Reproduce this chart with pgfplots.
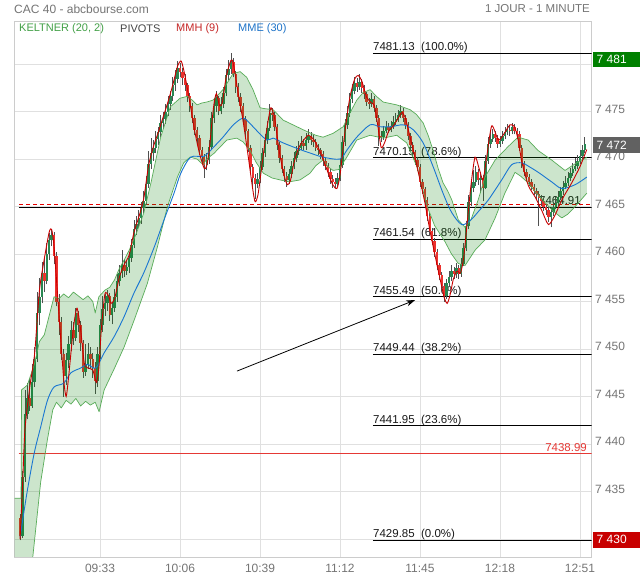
\documentclass[border=0pt]{standalone}
\usepackage{fontspec}
\setmainfont{Liberation Sans}
\usepackage{pgfplots}
\usepackage{pgfplotstable}
\pgfplotsset{compat=1.18}
\usetikzlibrary{arrows.meta}
\definecolor{gridcol}{RGB}{224,224,224}
\definecolor{bordercol}{RGB}{204,204,204}
\definecolor{ticklab}{RGB}{117,117,117}
\definecolor{upgreen}{RGB}{40,135,82}
\definecolor{downred}{RGB}{236,50,46}
\definecolor{wickcol}{RGB}{80,80,80}
\definecolor{bandline}{RGB}{88,172,88}
\definecolor{bandfill}{RGB}{0,128,0}
\definecolor{mmecol}{RGB}{25,118,210}
\definecolor{mmhcol}{RGB}{200,0,0}
\definecolor{legkel}{RGB}{67,160,71}
\definecolor{legpiv}{RGB}{70,70,70}
\definecolor{legmmh}{RGB}{198,40,40}
\definecolor{legmme}{RGB}{30,115,200}
\definecolor{fibcol}{RGB}{25,25,25}
\definecolor{redline}{RGB}{229,57,53}
\definecolor{dashred}{RGB}{230,0,0}
\definecolor{taggreen}{RGB}{0,128,0}
\definecolor{taggray}{RGB}{97,97,97}
\definecolor{tagred}{RGB}{200,0,0}

\pgfplotstableread{
t o h l c
0 7432.2 7432.6 7429.85 7430.3
1 7430.3 7437.2 7430.1 7436.5
2 7436.5 7445.7 7436.0 7443.2
3 7443.2 7446.4 7442.6 7444.8
4 7444.8 7446.8 7443.5 7444.0
5 7444.0 7448.4 7443.8 7446.5
6 7446.5 7450.2 7446.0 7449.0
7 7449.0 7456.0 7448.6 7453.8
8 7453.8 7457.5 7452.5 7455.5
9 7455.5 7459.2 7454.8 7458.0
10 7458.0 7459.5 7456.0 7457.2
11 7457.2 7461.2 7456.8 7460.0
12 7460.0 7462.2 7459.4 7461.5
13 7461.5 7462.5 7460.8 7462.0
14 7462.0 7462.3 7459.0 7459.8
15 7459.8 7460.2 7454.5 7455.0
16 7455.0 7455.8 7451.5 7452.8
17 7452.8 7453.4 7448.8 7449.5
18 7449.5 7450.0 7445.0 7447.2
19 7447.2 7449.6 7446.2 7448.8
20 7448.8 7451.4 7448.0 7450.5
21 7450.5 7453.0 7449.8 7452.0
22 7452.0 7452.8 7450.4 7451.2
23 7451.2 7454.3 7450.8 7453.8
24 7453.8 7454.0 7451.8 7452.5
25 7452.5 7452.9 7449.8 7450.6
26 7450.6 7451.0 7447.0 7447.6
27 7447.6 7450.5 7447.2 7448.4
28 7448.4 7450.6 7447.9 7449.5
29 7449.5 7450.2 7448.0 7448.9
30 7448.9 7449.6 7447.0 7448.0
31 7448.0 7448.6 7445.3 7446.6
32 7446.6 7450.2 7446.0 7449.5
33 7449.5 7453.2 7449.0 7452.5
34 7452.5 7455.6 7451.8 7454.2
35 7454.2 7455.8 7453.5 7454.8
36 7454.8 7456.2 7454.0 7455.6
37 7455.6 7455.9 7453.0 7453.6
38 7453.6 7455.0 7452.6 7454.3
39 7454.3 7456.3 7453.9 7455.5
40 7455.5 7457.9 7455.0 7457.2
41 7457.2 7458.8 7456.6 7458.0
42 7458.0 7460.4 7457.5 7458.8
43 7458.8 7459.5 7457.6 7458.2
44 7458.2 7459.3 7457.8 7458.6
45 7458.6 7460.2 7458.0 7459.6
46 7459.6 7461.6 7459.2 7461.0
47 7461.0 7463.6 7460.6 7462.6
48 7462.6 7464.0 7462.0 7463.2
49 7463.2 7464.6 7462.8 7463.8
50 7463.8 7465.5 7463.2 7464.8
51 7464.8 7466.6 7464.3 7465.6
52 7465.6 7468.2 7465.2 7467.4
53 7467.4 7470.8 7467.0 7469.5
54 7469.5 7472.2 7469.0 7470.6
55 7470.6 7472.0 7469.8 7471.2
56 7471.2 7473.0 7470.6 7472.1
57 7472.1 7473.4 7471.5 7472.8
58 7472.8 7474.6 7472.3 7473.8
59 7473.8 7475.0 7473.2 7474.2
60 7474.2 7475.8 7473.7 7475.0
61 7475.0 7476.6 7474.5 7475.8
62 7475.8 7477.2 7475.2 7476.6
63 7476.6 7478.6 7476.1 7477.8
64 7477.8 7479.4 7477.2 7478.4
65 7478.4 7480.3 7478.0 7479.6
66 7479.6 7480.1 7478.6 7479.2
67 7479.2 7479.6 7477.8 7478.5
68 7478.5 7478.9 7477.2 7477.8
69 7477.8 7478.0 7476.0 7476.6
70 7476.6 7476.9 7475.0 7475.6
71 7475.6 7475.9 7473.8 7474.3
72 7474.3 7474.6 7472.5 7473.1
73 7473.1 7473.4 7471.6 7472.2
74 7472.2 7472.5 7470.4 7471.0
75 7471.0 7471.3 7469.5 7470.2
76 7470.2 7470.5 7468.0 7469.4
77 7469.4 7470.6 7468.8 7469.9
78 7469.9 7472.0 7469.5 7471.3
79 7471.3 7475.0 7471.0 7474.3
80 7474.3 7476.4 7473.8 7475.6
81 7475.6 7477.2 7475.0 7476.4
82 7476.4 7476.6 7474.6 7475.1
83 7475.1 7476.5 7474.7 7475.8
84 7475.8 7477.6 7475.4 7476.9
85 7476.9 7479.5 7476.6 7478.8
86 7478.8 7480.4 7478.3 7479.5
87 7479.5 7481.13 7479.0 7480.2
88 7480.2 7480.6 7478.6 7479.0
89 7479.0 7479.3 7477.0 7477.6
90 7477.6 7478.0 7476.0 7476.5
91 7476.5 7476.9 7475.0 7475.6
92 7475.6 7475.9 7473.7 7474.2
93 7474.2 7474.5 7472.4 7472.9
94 7472.9 7473.2 7470.7 7471.2
95 7471.2 7471.5 7468.6 7469.2
96 7469.2 7469.5 7467.0 7468.0
97 7468.0 7468.4 7465.8 7467.4
98 7467.4 7468.5 7466.9 7467.9
99 7467.9 7469.8 7467.5 7469.2
100 7469.2 7471.2 7468.8 7470.6
101 7470.6 7472.6 7470.2 7472.0
102 7472.0 7474.0 7471.6 7473.3
103 7473.3 7475.8 7473.0 7474.8
104 7474.8 7475.4 7474.0 7474.6
105 7474.6 7474.9 7473.0 7473.4
106 7473.4 7473.7 7471.0 7471.5
107 7471.5 7471.8 7469.6 7470.1
108 7470.1 7470.4 7468.5 7469.0
109 7469.0 7469.3 7467.6 7468.2
110 7468.2 7468.6 7467.1 7467.8
111 7467.8 7469.0 7467.4 7468.4
112 7468.4 7469.8 7468.0 7469.3
113 7469.3 7470.7 7468.9 7470.1
114 7470.1 7471.4 7469.7 7470.8
115 7470.8 7471.9 7470.4 7471.2
116 7471.2 7472.4 7470.9 7471.7
117 7471.7 7472.1 7470.9 7471.4
118 7471.4 7472.7 7471.0 7472.0
119 7472.0 7473.2 7471.7 7472.4
120 7472.4 7472.8 7471.5 7472.0
121 7472.0 7472.5 7471.3 7471.8
122 7471.8 7472.1 7470.8 7471.2
123 7471.2 7471.6 7470.4 7470.9
124 7470.9 7471.2 7470.0 7470.5
125 7470.5 7470.8 7469.3 7469.8
126 7469.8 7470.1 7468.8 7469.3
127 7469.3 7469.6 7468.1 7468.6
128 7468.6 7468.9 7467.4 7467.9
129 7467.9 7468.3 7467.0 7467.6
130 7467.6 7468.0 7467.0 7467.4
131 7467.4 7468.5 7467.1 7468.0
132 7468.0 7470.0 7467.7 7469.4
133 7469.4 7472.4 7469.1 7471.8
134 7471.8 7474.2 7471.4 7473.6
135 7473.6 7475.6 7473.2 7474.8
136 7474.8 7477.0 7474.4 7476.3
137 7476.3 7477.9 7475.9 7477.2
138 7477.2 7478.6 7476.8 7478.0
139 7478.0 7478.5 7477.1 7477.6
140 7477.6 7478.9 7477.3 7478.1
141 7478.1 7478.4 7477.0 7477.5
142 7477.5 7477.8 7476.3 7476.8
143 7476.8 7477.1 7475.6 7476.0
144 7476.0 7476.4 7475.3 7475.8
145 7475.8 7476.9 7475.5 7476.3
146 7476.3 7476.6 7475.0 7475.4
147 7475.4 7475.7 7473.9 7474.3
148 7474.3 7474.6 7471.4 7472.4
149 7472.4 7473.0 7471.8 7472.3
150 7472.3 7473.5 7472.0 7473.0
151 7473.0 7474.0 7472.7 7473.4
152 7473.4 7473.8 7472.7 7473.1
153 7473.1 7474.0 7472.8 7473.5
154 7473.5 7474.5 7473.2 7473.9
155 7473.9 7474.8 7473.6 7474.2
156 7474.2 7475.2 7473.9 7474.6
157 7474.6 7475.7 7474.3 7475.1
158 7475.1 7475.4 7473.9 7474.3
159 7474.3 7474.6 7473.2 7473.6
160 7473.6 7473.9 7472.0 7472.4
161 7472.4 7472.7 7471.0 7471.5
162 7471.5 7471.8 7470.2 7470.7
163 7470.7 7471.0 7469.4 7469.9
164 7469.9 7470.2 7468.7 7469.2
165 7469.2 7469.5 7467.1 7467.6
166 7467.6 7467.9 7466.3 7466.8
167 7466.8 7467.1 7465.2 7465.7
168 7465.7 7466.0 7463.5 7464.0
169 7464.0 7464.3 7461.9 7462.4
170 7462.4 7462.7 7460.9 7461.4
171 7461.4 7461.7 7459.7 7460.2
172 7460.2 7460.5 7458.3 7458.8
173 7458.8 7459.1 7457.3 7457.8
174 7457.8 7458.1 7456.1 7456.6
175 7456.6 7456.9 7455.0 7455.6
176 7455.6 7457.4 7455.3 7456.9
177 7456.9 7458.2 7456.5 7457.6
178 7457.6 7458.8 7457.2 7458.2
179 7458.2 7458.6 7457.4 7457.9
180 7457.9 7459.1 7457.5 7458.5
181 7458.5 7458.8 7457.4 7457.9
182 7457.9 7459.6 7457.6 7459.0
183 7459.0 7461.2 7458.7 7460.6
184 7460.6 7463.5 7460.3 7462.9
185 7462.9 7466.2 7462.6 7465.5
186 7465.5 7467.6 7465.1 7466.9
187 7466.9 7468.8 7466.5 7467.6
188 7467.6 7469.3 7467.2 7468.6
189 7468.6 7468.9 7467.3 7467.8
190 7467.8 7468.6 7466.4 7468.0
191 7468.0 7468.3 7465.6 7467.0
192 7467.0 7470.4 7466.8 7469.8
193 7469.8 7472.3 7469.5 7471.6
194 7471.6 7472.8 7471.2 7472.1
195 7472.1 7473.2 7471.8 7472.6
196 7472.6 7473.0 7471.8 7472.2
197 7472.2 7472.5 7471.2 7471.6
198 7471.6 7472.4 7471.3 7471.9
199 7471.9 7473.0 7471.6 7472.4
200 7472.4 7473.4 7472.1 7472.8
201 7472.8 7473.7 7472.5 7473.1
202 7473.1 7473.5 7472.4 7472.9
203 7472.9 7473.8 7472.6 7473.4
204 7473.4 7473.7 7472.6 7473.0
205 7473.0 7473.3 7472.1 7472.6
206 7472.6 7472.9 7470.8 7471.2
207 7471.2 7471.5 7469.1 7469.5
208 7469.5 7469.8 7468.2 7468.6
209 7468.6 7468.9 7467.7 7468.1
210 7468.1 7468.4 7467.2 7467.6
211 7467.6 7467.9 7466.7 7467.1
212 7467.1 7467.4 7466.2 7466.6
213 7466.6 7466.9 7465.8 7466.3
214 7466.3 7466.6 7463.0 7465.9
215 7465.9 7466.2 7465.1 7465.6
216 7465.6 7465.9 7464.5 7465.0
217 7465.0 7465.3 7464.1 7464.6
218 7464.6 7464.9 7463.4 7463.9
219 7463.9 7464.9 7462.8 7464.4
220 7464.4 7465.5 7464.0 7465.0
221 7465.0 7466.0 7464.7 7465.4
222 7465.4 7466.6 7465.1 7466.0
223 7466.0 7467.1 7465.7 7466.6
224 7466.6 7467.7 7466.2 7467.1
225 7467.1 7468.2 7466.8 7467.5
226 7467.5 7468.6 7467.2 7468.0
227 7468.0 7469.1 7467.7 7468.5
228 7468.5 7469.6 7468.2 7469.0
229 7469.0 7470.1 7468.7 7469.3
230 7469.3 7470.4 7469.0 7469.8
231 7469.8 7470.9 7469.5 7470.3
232 7470.3 7471.5 7470.0 7470.9
233 7470.9 7472.3 7470.6 7471.6
}\candles

\tikzset{fiblab/.style={anchor=base west, inner sep=0pt, yshift=2.5pt, text=fibcol, font=\fontsize{11.5}{13}\selectfont}}

\begin{document}
\begin{tikzpicture}
\useasboundingbox (0,0) rectangle (640pt,580pt);
\fill[white] (0,0) rectangle (640pt,580pt);
\begin{axis}[
  at={(14.5pt,23pt)}, anchor=south west, scale only axis,
  width=577pt, height=536pt,
  xmin=-2.3, xmax=235.75, ymin=7428.11, ymax=7484.53,
  xtick={33,66,99,132,165,198,231},
  xticklabels={09:33,10:06,10:39,11:12,11:45,12:18,12:51},
  ytick={7430,7435,7440,7445,7450,7455,7460,7465,7470,7475,7480},
  yticklabels={{},7 435,7 440,7 445,7 450,7 455,7 460,7 465,7 470,7 475,{}},
  yticklabel pos=right,
  major tick length=0pt,
  xmajorgrids, ymajorgrids,
  grid style={draw=gridcol, line width=0.9pt},
  axis line style={draw=bordercol, line width=0.9pt},
  tick label style={font=\fontsize{12}{14}\selectfont, text=ticklab},
  yticklabel style={anchor=west, yshift=2.5pt},
  xticklabel style={yshift=-4pt},
]
% reference lines (under candles)
\addplot[black, line width=0.9pt, forget plot] coordinates {(-0.6,7464.91) (235.75,7464.91)};
\addplot[dashred, line width=0.9pt, dash pattern=on 4pt off 3pt, forget plot] coordinates {(-0.4,7465.22) (235.75,7465.22)};
\addplot[redline, line width=0.8pt, forget plot] coordinates {(-0.6,7438.99) (235.75,7438.99)};
\addplot[black, line width=0.9pt, forget plot] coordinates {(145.6,7481.13) (235.75,7481.13)};
\addplot[black, line width=0.9pt, forget plot] coordinates {(145.6,7470.15) (235.75,7470.15)};
\addplot[black, line width=0.9pt, forget plot] coordinates {(145.6,7461.54) (235.75,7461.54)};
\addplot[black, line width=0.9pt, forget plot] coordinates {(145.6,7455.49) (235.75,7455.49)};
\addplot[black, line width=0.9pt, forget plot] coordinates {(145.6,7449.44) (235.75,7449.44)};
\addplot[black, line width=0.9pt, forget plot] coordinates {(145.6,7441.95) (235.75,7441.95)};
\addplot[black, line width=0.9pt, forget plot] coordinates {(145.6,7429.85) (235.75,7429.85)};
\node[fiblab] at (axis cs:145.6,7481.13) {7481.13~~(100.0\%)};
\node[fiblab] at (axis cs:145.6,7470.15) {7470.15~~(78.6\%)};
\node[fiblab] at (axis cs:145.6,7461.54) {7461.54~~(61.8\%)};
\node[fiblab] at (axis cs:145.6,7455.49) {7455.49~~(50.0\%)};
\node[fiblab] at (axis cs:145.6,7449.44) {7449.44~~(38.2\%)};
\node[fiblab] at (axis cs:145.6,7441.95) {7441.95~~(23.6\%)};
\node[fiblab] at (axis cs:145.6,7429.85) {7429.85~~(0.0\%)};
\node[fiblab, anchor=base east] at (axis cs:231.4,7464.91) {7464.91};
\node[fiblab, anchor=base east, text=redline] at (axis cs:233.9,7438.99) {7438.99};

% candles: wicks (segment from low to high)
\addplot[forget plot, draw=wickcol, line width=0.7pt,
  quiver={u=0, v=\thisrow{h}-\thisrow{l}}]
  table[x=t, y=l] {\candles};
% up bodies (down candles moved off the axis)
\addplot[forget plot, draw=upgreen, line width=2.4pt,
  quiver={u=0, v=\thisrow{c}-\thisrow{o}}]
  table[x expr={\thisrow{c}>=\thisrow{o} ? \thisrow{t} : -100}, y=o] {\candles};
% down bodies
\addplot[forget plot, draw=downred, line width=2.4pt,
  quiver={u=0, v=\thisrow{c}-\thisrow{o}}]
  table[x expr={\thisrow{c}<\thisrow{o} ? \thisrow{t} : -100}, y=o] {\candles};

% Keltner band fill (upper edge forward, lower edge back)
\addplot[fill=bandfill, fill opacity=0.2, draw=none, forget plot] coordinates {
(-2.3,7434.3) (0.4,7434.3) (0.6,7445.7) (3,7446.2) (6,7448.5) (8,7450.8) (10,7451.5) (12,7453.5) (14,7455.5) (16,7455.3) (18,7455.8) (20,7455.4) (22,7456.0) (24,7455.6) (26,7455.2) (28,7455.6) (30,7455.0) (31,7453.8) (32.5,7455.5) (35,7456.2) (37,7456.5) (39,7457.3) (41,7458.5) (43,7459.4) (45,7460.4) (48,7462.2) (51,7464.3) (54,7467.5) (58,7472.3) (62,7475.5) (66,7476.4) (69,7476.6) (71,7476.2) (73,7475.7) (75,7475.9) (77,7476.0) (79.6,7476.2) (83.7,7477.3) (87.9,7479.0) (90.8,7479.2) (93.5,7478.6) (96.1,7477.3) (99,7475.4) (101,7475.3) (104.4,7475.2) (108.5,7474.1) (114.2,7473.4) (118.3,7472.9) (122,7472.5) (125,7472.3) (129.1,7472.7) (133.3,7473.4) (136,7474.8) (138.9,7476.2) (141.5,7477.0) (144.4,7477.3) (147,7476.6) (149.8,7476.0) (155.4,7475.7) (160.9,7475.2) (163.5,7474.7) (166.3,7473.8) (168.5,7472.4) (170.4,7470.9) (172.5,7469.0) (174.5,7467.5) (176.5,7466.6) (178.1,7465.7) (180.8,7463.6) (183.6,7462.8) (186,7463.6) (189,7465.7) (191.8,7468.1) (196,7469.9) (201.3,7471.3) (205.4,7472.3) (209.6,7472.0) (213.7,7470.9) (219.3,7469.9) (224.8,7468.8) (229,7469.5) (233.8,7470.2)
(233.8,7466.4) (229,7465.0) (226,7464.2) (223.5,7463.8) (220,7464.5) (216.6,7465.4) (213,7466.4) (209.6,7467.5) (206.5,7468.2) (204.2,7468.6) (200,7466.4) (196,7463.8) (191.8,7461.5) (187.7,7460.4) (183.6,7458.8) (180.8,7459.0) (178,7460.0) (175.3,7461.3) (171,7463.0) (168,7465.0) (166.3,7466.6) (163.7,7469.2) (159.5,7471.7) (155.4,7472.5) (149.8,7472.2) (144.4,7472.5) (138.9,7472.0) (134.8,7470.2) (131.5,7468.9) (129.1,7468.8) (127,7469.2) (125,7469.9) (122,7469.3) (119.6,7468.5) (115.5,7467.8) (111,7467.6) (107.3,7467.8) (104,7468.0) (100.4,7468.5) (97.5,7469.6) (94.9,7470.9) (92,7471.8) (89.4,7472.2) (85.3,7472.0) (80,7470.6) (77,7470.0) (75.5,7469.4) (73,7470.0) (70.1,7470.2) (67.5,7469.6) (64.9,7468.1) (60.8,7465.0) (56.6,7460.7) (52.5,7456.9) (47,7453.0) (42.9,7450.2) (38.8,7447.9) (34.7,7445.7) (32.6,7443.4) (31,7444.4) (29,7444.1) (27,7444.5) (25,7444.0) (23,7444.8) (21,7444.2) (19,7444.6) (17,7443.8) (15,7444.4) (13.5,7443.6) (11.3,7440.5) (8.5,7436.0) (5.2,7428.0) (3.5,7424) (-2.3,7418)};
% Keltner band edges
\addplot[draw=bandline, line width=0.7pt, line join=round, forget plot] coordinates {
(-2.3,7434.3) (0.4,7434.3) (0.6,7445.7) (3,7446.2) (6,7448.5) (8,7450.8) (10,7451.5) (12,7453.5) (14,7455.5) (16,7455.3) (18,7455.8) (20,7455.4) (22,7456.0) (24,7455.6) (26,7455.2) (28,7455.6) (30,7455.0) (31,7453.8) (32.5,7455.5) (35,7456.2) (37,7456.5) (39,7457.3) (41,7458.5) (43,7459.4) (45,7460.4) (48,7462.2) (51,7464.3) (54,7467.5) (58,7472.3) (62,7475.5) (66,7476.4) (69,7476.6) (71,7476.2) (73,7475.7) (75,7475.9) (77,7476.0) (79.6,7476.2) (83.7,7477.3) (87.9,7479.0) (90.8,7479.2) (93.5,7478.6) (96.1,7477.3) (99,7475.4) (101,7475.3) (104.4,7475.2) (108.5,7474.1) (114.2,7473.4) (118.3,7472.9) (122,7472.5) (125,7472.3) (129.1,7472.7) (133.3,7473.4) (136,7474.8) (138.9,7476.2) (141.5,7477.0) (144.4,7477.3) (147,7476.6) (149.8,7476.0) (155.4,7475.7) (160.9,7475.2) (163.5,7474.7) (166.3,7473.8) (168.5,7472.4) (170.4,7470.9) (172.5,7469.0) (174.5,7467.5) (176.5,7466.6) (178.1,7465.7) (180.8,7463.6) (183.6,7462.8) (186,7463.6) (189,7465.7) (191.8,7468.1) (196,7469.9) (201.3,7471.3) (205.4,7472.3) (209.6,7472.0) (213.7,7470.9) (219.3,7469.9) (224.8,7468.8) (229,7469.5) (233.8,7470.2)};
\addplot[draw=bandline, line width=0.7pt, line join=round, forget plot] coordinates {
(-2.3,7418) (3.5,7424) (5.2,7428.0) (8.5,7436.0) (11.3,7440.5) (13.5,7443.6) (15,7444.4) (17,7443.8) (19,7444.6) (21,7444.2) (23,7444.8) (25,7444.0) (27,7444.5) (29,7444.1) (31,7444.4) (32.6,7443.4) (34.7,7445.7) (38.8,7447.9) (42.9,7450.2) (47,7453.0) (52.5,7456.9) (56.6,7460.7) (60.8,7465.0) (64.9,7468.1) (67.5,7469.6) (70.1,7470.2) (73,7470.0) (75.5,7469.4) (77,7470.0) (80,7470.6) (85.3,7472.0) (89.4,7472.2) (92,7471.8) (94.9,7470.9) (97.5,7469.6) (100.4,7468.5) (104,7468.0) (107.3,7467.8) (111,7467.6) (115.5,7467.8) (119.6,7468.5) (122,7469.3) (125,7469.9) (127,7469.2) (129.1,7468.8) (131.5,7468.9) (134.8,7470.2) (138.9,7472.0) (144.4,7472.5) (149.8,7472.2) (155.4,7472.5) (159.5,7471.7) (163.7,7469.2) (166.3,7466.6) (168,7465.0) (171,7463.0) (175.3,7461.3) (178,7460.0) (180.8,7459.0) (183.6,7458.8) (187.7,7460.4) (191.8,7461.5) (196,7463.8) (200,7466.4) (204.2,7468.6) (206.5,7468.2) (209.6,7467.5) (213,7466.4) (216.6,7465.4) (220,7464.5) (223.5,7463.8) (226,7464.2) (229,7465.0) (233.8,7466.4)};

% MME (30)
\addplot[mmecol, line width=0.9pt, smooth, forget plot] coordinates {
(0,7430.2) (2.8,7434.8) (5.8,7439) (8.5,7441.8) (11.3,7444.6) (14,7446.0) (18,7446.4) (21,7447.5) (25,7448.0) (27.8,7448.4) (31.2,7448.0) (34.7,7449.6) (38.8,7451.3) (42.9,7453.4) (47,7455.9) (51,7458.0) (55.3,7460.7) (59.4,7463.6) (63.5,7466.4) (66.3,7468.5) (70.4,7470.2) (75.9,7470.3) (80,7471.3) (83.7,7472.3) (88,7473.6) (92,7474.3) (95,7473.7) (97.6,7473.0) (101.8,7472.0) (104.4,7472.2) (108.5,7471.7) (115.5,7471.0) (120,7470.6) (125,7470.2) (131.9,7470.0) (135,7471.0) (138.9,7472.3) (144.4,7473.6) (148.5,7473.4) (153,7473.4) (158,7473.6) (162.1,7473.1) (166.3,7471.7) (170.4,7469.2) (174.5,7466.4) (178,7464.4) (182.2,7463.1) (186,7463.6) (189.5,7464.6) (193.2,7465.7) (198.7,7467.8) (202.8,7469.4) (207,7469.6) (210,7469.2) (213.8,7468.6) (219.3,7467.6) (223.5,7466.9) (229,7467.3) (233.8,7468.1)};

% MMH (9)
\addplot[mmhcol, line width=0.9pt, smooth, tension=0.4, forget plot] coordinates {
(0,7430.0) (1,7435.5) (2,7441.5) (4,7446.0) (6,7449.5) (8,7456.2) (10,7459.5) (12,7462.3) (13,7462.6) (14,7460.8) (16,7453.8) (18,7446.8) (19,7445.0) (20,7447.0) (22,7452.2) (23.5,7454.3) (25,7452.0) (26.5,7448.5) (28,7448.0) (30,7447.8) (31.5,7446.5) (32.5,7448.0) (33.5,7452.0) (35,7455.8) (36.5,7455.6) (37.5,7454.8) (39,7455.3) (41,7457.6) (43,7458.9) (45,7459.9) (47,7462.3) (49,7463.9) (51,7465.8) (53,7469.3) (55,7471.3) (57,7472.8) (59,7474.4) (61,7476.0) (63,7477.8) (65,7479.8) (66.5,7480.3) (68,7478.8) (70,7476.0) (72,7473.0) (74,7470.6) (76,7469.0) (77,7469.3) (78,7470.8) (79,7473.5) (80,7475.8) (81,7476.9) (82.3,7475.6) (83.5,7476.0) (85,7478.6) (87,7480.4) (88,7480.0) (90,7476.9) (92,7474.0) (94,7470.5) (96,7466.8) (97,7465.5) (98.2,7466.3) (100,7469.8) (102,7473.5) (103.5,7475.4) (105,7474.3) (107,7470.7) (109,7468.2) (110.3,7467.3) (111.5,7467.7) (113,7469.6) (115,7471.2) (117,7472.0) (119,7472.5) (121,7472.1) (123,7471.2) (125,7470.0) (127,7468.6) (129,7467.3) (130.7,7466.9) (132,7468.3) (134,7472.8) (136,7476.4) (138,7478.4) (139.5,7478.8) (141,7478.2) (143,7476.5) (145,7475.9) (146.2,7475.6) (147.6,7473.5) (149,7471.2) (150.5,7471.8) (152,7472.9) (154,7473.5) (156,7474.3) (157.5,7474.9) (159,7474.3) (161,7472.2) (163,7470.1) (165,7467.8) (167,7465.4) (169,7462.6) (171,7460.1) (173,7457.7) (175,7455.4) (176.2,7454.8) (177.3,7455.6) (178.8,7457.4) (180.3,7458.2) (181.7,7458.0) (183,7459.6) (184.5,7463.4) (186,7467.2) (187.7,7470.2) (189.5,7468.9) (191,7467.8) (192.5,7470.2) (194.6,7473.5) (197.3,7472.0) (199.5,7472.6) (202.1,7473.6) (204,7473.4) (205.5,7472.0) (207,7469.7) (209.7,7467.2) (212.5,7466.0) (215.2,7464.6) (218,7463.1) (220.7,7464.1) (223.5,7465.7) (227.6,7467.5) (231,7469.2) (233.8,7471.0)};

% annotation arrow
\addplot[black, line width=0.8pt, -{Stealth[length=9pt,width=6pt]}, forget plot] coordinates {(89.5,7447.68) (163,7455.16)};
\end{axis}

% price tags on the right
\fill[taggreen] (593pt,512.7pt) rectangle (640pt,528.3pt);
\node[anchor=west, inner sep=0pt, text=white, font=\fontsize{12}{14}\selectfont] at (596.5pt,520.5pt) {7 481};
\fill[taggray] (593pt,426.7pt) rectangle (640pt,442.7pt);
\node[anchor=west, inner sep=0pt, text=white, font=\fontsize{12}{14}\selectfont] at (596.5pt,434.7pt) {7 472};
\fill[tagred] (593pt,32.3pt) rectangle (640pt,48.3pt);
\node[anchor=west, inner sep=0pt, text=white, font=\fontsize{12}{14}\selectfont] at (596.5pt,40.3pt) {7 430};

% title
\node[anchor=west, inner sep=0pt, text=ticklab, font=\fontsize{12}{14}\selectfont] at (14pt,571pt) {CAC 40 - abcbourse.com};
\node[anchor=east, inner sep=0pt, text=ticklab, font=\fontsize{11.5}{14}\selectfont] at (590pt,571pt) {1 JOUR - 1 MINUTE};

% legend
\node[anchor=west, inner sep=0pt, text=legkel, font=\fontsize{11}{13}\selectfont] at (19pt,551pt) {KELTNER (20, 2)};
\node[anchor=west, inner sep=0pt, text=legpiv, font=\fontsize{11}{13}\selectfont] at (120pt,551pt) {PIVOTS};
\node[anchor=west, inner sep=0pt, text=legmmh, font=\fontsize{11}{13}\selectfont] at (176pt,551pt) {MMH (9)};
\node[anchor=west, inner sep=0pt, text=legmme, font=\fontsize{11}{13}\selectfont] at (238pt,551pt) {MME (30)};
\end{tikzpicture}
\end{document}
